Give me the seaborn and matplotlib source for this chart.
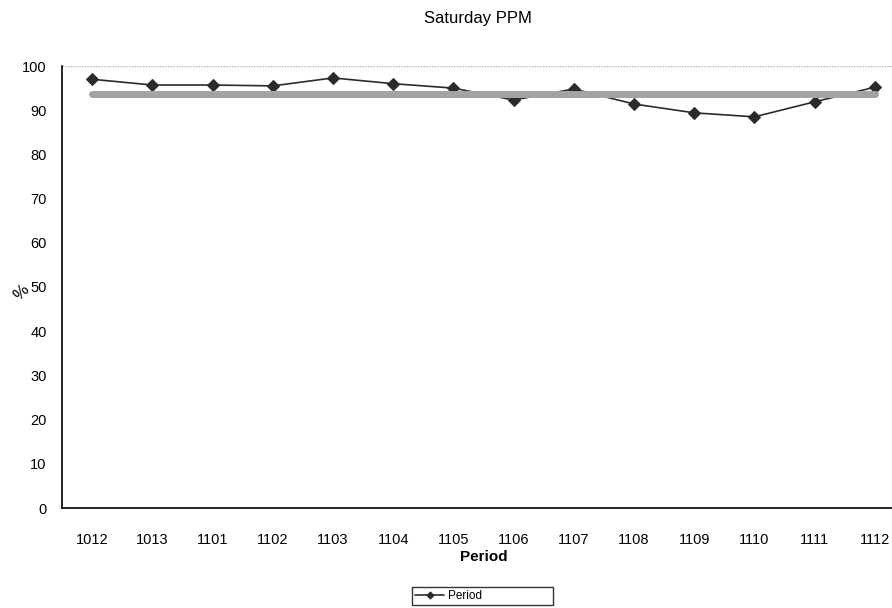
import numpy as np
import pandas as pd
import matplotlib
matplotlib.use("Agg")
import matplotlib.pyplot as plt
import seaborn as sns

# --- data ---
periods = ["1012", "1013", "1101", "1102", "1103", "1104", "1105",
           "1106", "1107", "1108", "1109", "1110", "1111", "1112"]
ppm = [97.0, 95.7, 95.7, 95.5, 97.3, 96.0, 95.0,
       92.3, 94.8, 91.4, 89.4, 88.5, 91.9, 95.2]
target = [93.7] * len(periods)
y_ticks = list(range(0, 101, 10))

df = pd.DataFrame({"Period": periods, "PPM": ppm, "Target": target})

sns.set_style("white")
plt.rcParams["font.family"] = ["Liberation Sans", "DejaVu Sans"]
plt.rcParams["text.color"] = "black"
plt.rcParams["xtick.color"] = "black"
plt.rcParams["ytick.color"] = "black"
plt.rcParams["axes.labelcolor"] = "black"

fig = plt.figure(figsize=(8.92, 6.08), dpi=100)
ax = fig.add_axes([62 / 892, 100 / 608, 843 / 892, 442 / 608])

sns.lineplot(data=df, x="Period", y="PPM", ax=ax, color="#2b2b2b", linewidth=1.2,
             marker="D", markersize=6, markeredgecolor="#2b2b2b", label="Period",
             sort=False, zorder=2)
sns.lineplot(data=df, x="Period", y="Target", ax=ax, color="#a3a3a3", linewidth=5,
             sort=False, zorder=3, legend=False)

ax.set_xlim(-0.5, len(periods) - 0.5)
ax.set_ylim(0, 100)
ax.set_yticks(y_ticks)
ax.set_yticklabels([str(v) for v in y_ticks], fontsize=10.5)
ax.set_xticks(range(len(periods)))
ax.set_xticklabels(periods, fontsize=10.5)
ax.set_xticks(np.arange(-0.5, len(periods), 1.0), minor=True)
ax.tick_params(axis="x", which="major", length=0, pad=18)
ax.tick_params(axis="x", which="minor", length=5, width=1, color="black", direction="out")
ax.tick_params(axis="y", length=5, width=1, color="black", direction="out", pad=6)

for side in ["top", "right"]:
    ax.spines[side].set_visible(False)
for side in ["left", "bottom"]:
    ax.spines[side].set_color("black")
    ax.spines[side].set_linewidth(1.2)
ax.axhline(100, color="#b0b0b0", linewidth=1, linestyle=(0, (1, 1)), zorder=1)

ax.set_xlabel("Period", fontsize=11, fontweight="bold", labelpad=2)
ax.set_ylabel("")
fig.text(21 / 892, 1 - 293 / 608, "%", fontsize=12, rotation=45, ha="center", va="center")
fig.suptitle("Saturday PPM", x=478 / 892, y=1 - 11 / 608, fontsize=12, va="top")

ax.legend(loc="upper left", bbox_to_anchor=(412 / 892, 1 - 587 / 608, 141 / 892, 0.0),
          bbox_transform=fig.transFigure, mode="expand", frameon=True, fancybox=False,
          edgecolor="black", fontsize=8.5, handlelength=2.5, borderpad=0.25,
          borderaxespad=0, handletextpad=0.3, markerscale=0.6)

fig.savefig("out.png", dpi=100)
